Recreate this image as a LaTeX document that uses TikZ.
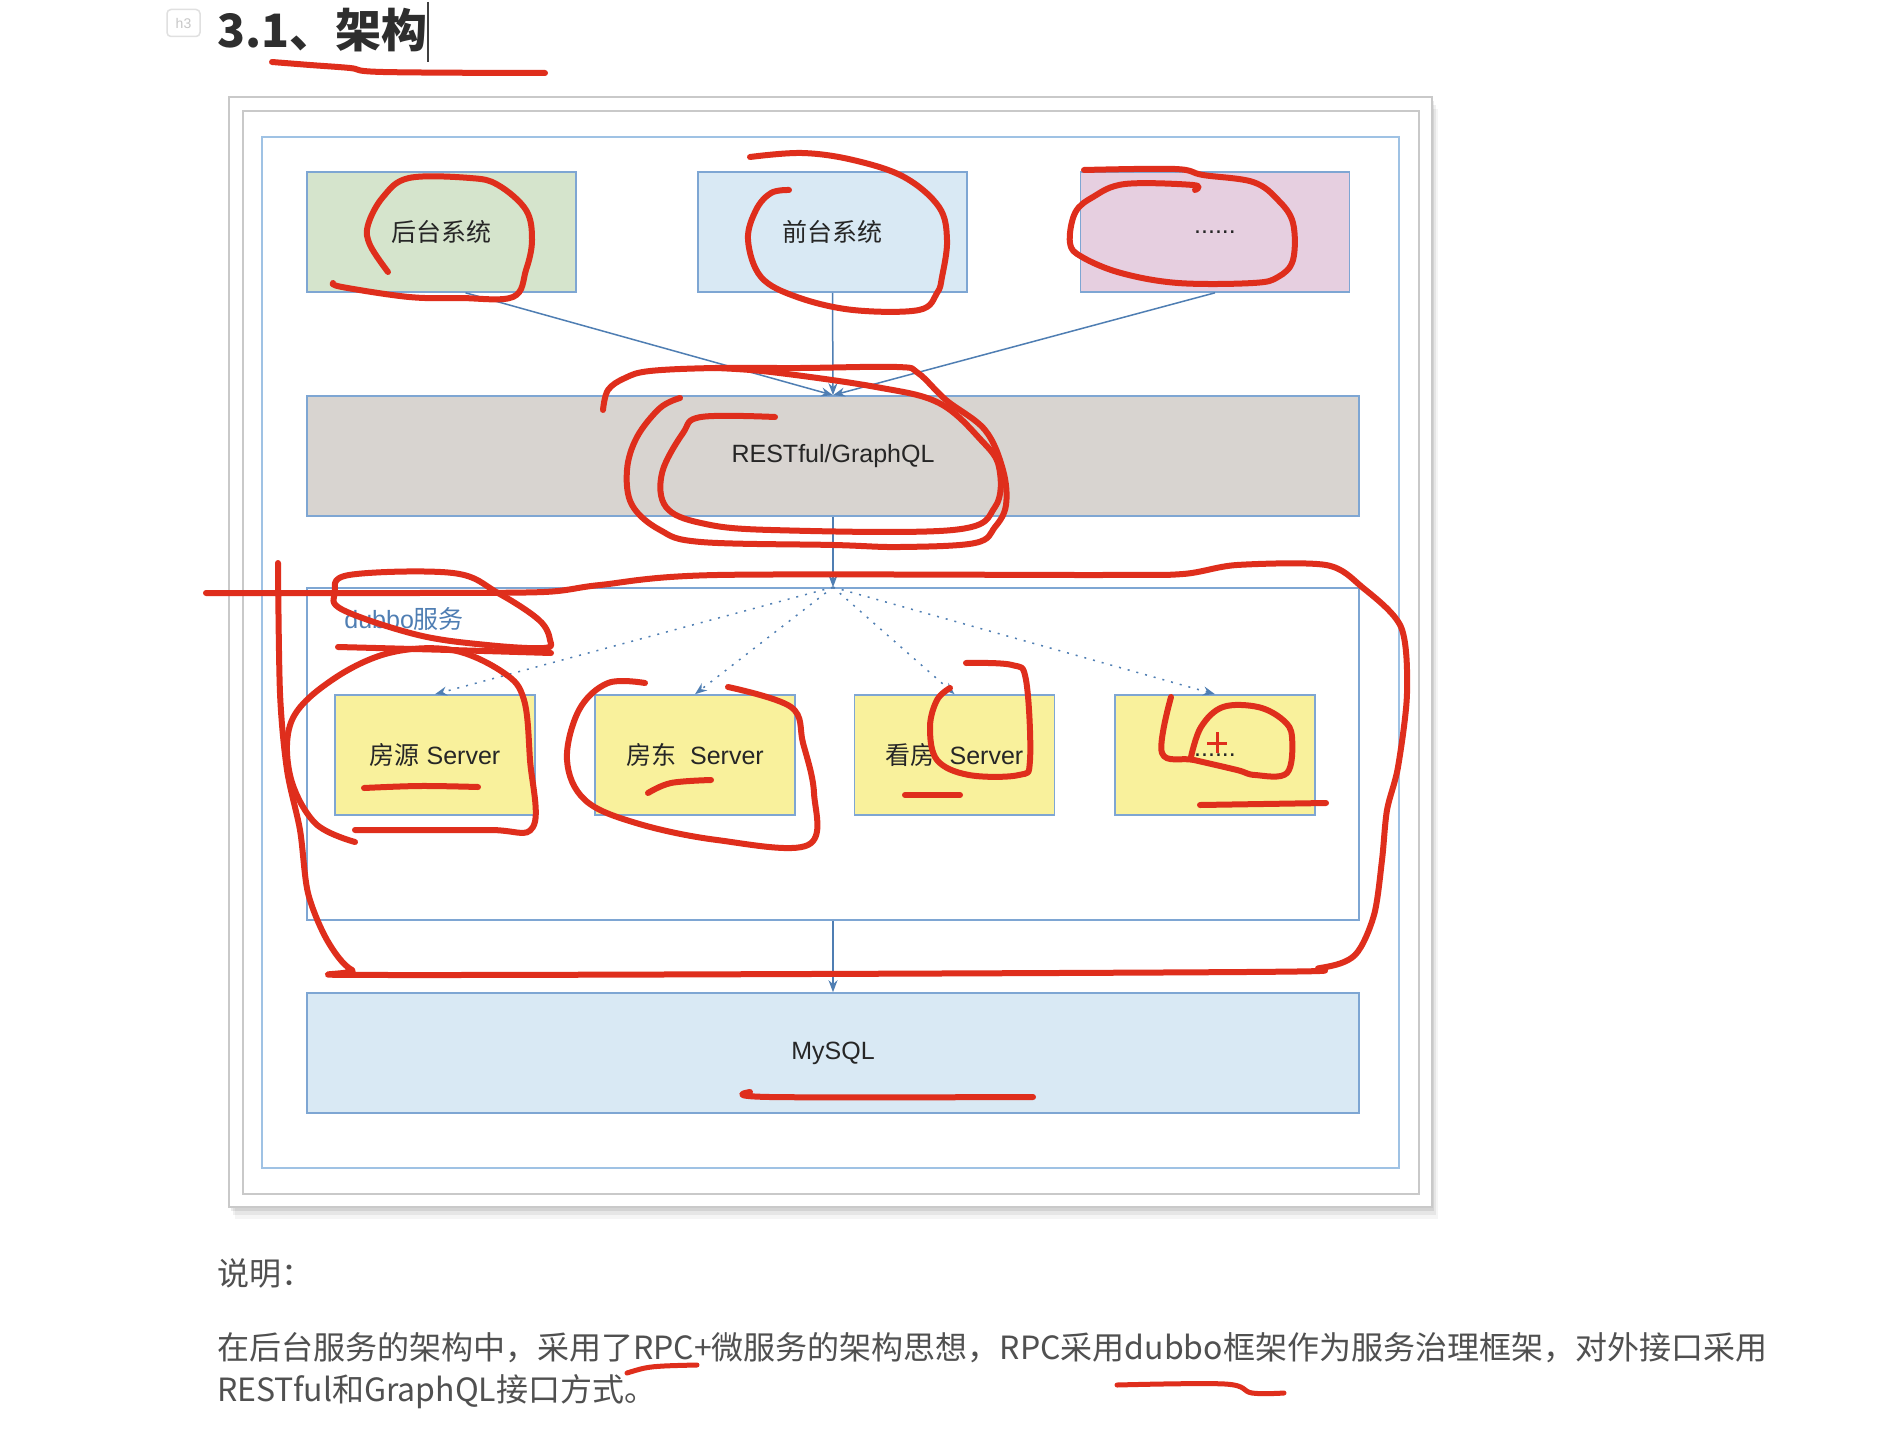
\documentclass[tikz,border=0pt]{standalone}
\usepackage{fontspec}
\setmainfont{Liberation Sans}
\newfontfamily\cjk{Noto Sans CJK SC}
\usetikzlibrary{arrows.meta}

\definecolor{framegray}{HTML}{C9C9C9}
\definecolor{frameblue}{HTML}{9FC2E4}
\definecolor{boxline}{HTML}{7EA6D3}
\definecolor{linkblue}{HTML}{4F7EB3}
\definecolor{greenfill}{HTML}{D5E4CC}
\definecolor{bluefill}{HTML}{D9E9F4}
\definecolor{pinkfill}{HTML}{E6CFE0}
\definecolor{grayfill}{HTML}{D8D4D0}
\definecolor{yellowfill}{HTML}{F9F19C}
\definecolor{penred}{HTML}{DF2E1C}
\definecolor{bodytext}{HTML}{505050}

\begin{document}
\begin{tikzpicture}[x=1pt,y=-1pt,
  box/.style={draw=boxline, line width=1.6pt, inner sep=0pt, minimum height=120pt},
  topbox/.style={box, minimum width=269pt},
  widebox/.style={box, minimum width=1052pt},
  srv/.style={box, fill=yellowfill, minimum width=200pt},
  lbl/.style={font=\fontsize{25}{30}\selectfont, text=black!85},
  para/.style={anchor=west, inner sep=0pt, text=bodytext, font=\cjk\fontsize{32}{38}\selectfont},
  conn/.style={draw=linkblue, line width=1.5pt, -{Stealth[length=12pt,width=9pt]}},
  rpc/.style={conn, dash pattern=on 2pt off 7pt},
  redpen/.style={draw=penred, line width=6pt, line cap=round, line join=round},
]
\useasboundingbox (0,0) rectangle (1878,1434);
\fill[white] (0,0) rectangle (1878,1434);

\foreach \d/\o in {12/0.04, 8/0.06, 4/0.08}
  \fill[black, opacity=\o] (229+\d/2,97+\d) rectangle (1432+\d/2,1207+\d);
\draw[framegray, fill=white, line width=1.5pt] (229,97) rectangle (1432,1207);
\draw[framegray, line width=1.5pt] (243,111) rectangle (1419,1194);
\draw[frameblue, line width=1.5pt] (262,137) rectangle (1399,1168);

\node[topbox, fill=greenfill, lbl] (houtai) at (441.5,232) {\cjk 后台系统};
\node[topbox, fill=bluefill, lbl] (qiantai) at (832.5,232) {\cjk 前台系统};
\node[topbox, fill=pinkfill, lbl] (more) at (1215,232) {......};
\node[widebox, fill=grayfill, lbl] (api) at (833,456) {RESTful/GraphQL};
\node[widebox, fill=white, minimum height=332pt] (dubbo) at (833,754) {};
\node[lbl, text=linkblue, anchor=west, inner sep=0pt] (dubbolbl) at ([xshift=38pt,yshift=-32pt]dubbo.north west) {dubbo{\cjk 服务}};
\node[srv, lbl] (fangyuan) at (435,755) {{\cjk 房源} Server};
\node[srv, lbl] (fangdong) at (695,755) {{\cjk 房东}\ \ Server};
\node[srv, lbl] (kanfang) at (954.5,755) {{\cjk 看房}\ \ Server};
\node[srv, lbl] (etc) at (1215,755) {......};
\node[widebox, fill=bluefill, lbl] (mysql) at (833,1053) {MySQL};

\draw[conn] ([xshift=24pt]houtai.south) -- (api.north);
\draw[conn] (qiantai.south) -- (api.north);
\draw[conn] (more.south) -- (api.north);
\draw[conn] (api.south) -- (dubbo.north);
\foreach \s in {fangyuan,fangdong,kanfang,etc}
  \draw[rpc] (dubbo.north) -- (\s.north);
\draw[conn] (dubbo.south) -- (mysql.north);

\node[draw=black!12, rounded corners=4pt, line width=1.5pt, minimum width=33pt, minimum height=27pt, inner sep=0pt, text=black!22, font=\fontsize{14}{14}\selectfont] (badge) at (183.5,23) {h3};
\node[anchor=base west, inner sep=0pt, text=black!82, font=\cjk\bfseries\fontsize{46}{50}\selectfont] (title) at (217,48) {3.1、架构};
\draw[black!75, line width=1.5pt] (428,2) -- (428,62);

\node[para] (note) at (217,1273) {说明：};
\node[para] (line1) at (217,1348) {在后台服务的架构中，采用了RPC+微服务的架构思想，RPC采用dubbo框架作为服务治理框架，对外接口采用};
\node[para] (line2) at (217,1392) {RESTful和GraphQL接口方式。};

\draw[redpen] plot[smooth, tension=0.6] coordinates {(272,62) (310,65) (350,68) (383,72) (545,73)};
\draw[redpen] plot[smooth, tension=0.6] coordinates {(388,272) (370,245) (368,225) (383,197) (409,178) (470,178) (498,185) (526,210) (532,240) (526,270) (513,297) (460,298) (409,297) (342,287) (333,283)};
\draw[redpen] plot[smooth, tension=0.6] coordinates {(750,157) (802,153) (853,160) (904,177) (939,207) (947,240) (942,277) (937,293) (919,310) (853,310) (797,297) (761,277) (748,240) (756,210) (771,193) (789,190)};
\draw[redpen] plot[smooth, tension=0.6] coordinates {(1084,170) (1175,169) (1203,175) (1253,182) (1278,200) (1293,223) (1293,260) (1278,277) (1253,283) (1178,283) (1121,273) (1082,257) (1070,243) (1075,213) (1093,197) (1125,184) (1193,185) (1195,190)};
\draw[redpen] plot[smooth, tension=0.6] coordinates {(603,410) (608,390) (625,378) (650,371) (715,368) (800,368) (897,367) (918,373) (946,400) (985,430) (1003,470) (1006,505) (995,527) (975,543) (900,547) (834,545) (701,542) (660,530) (632,505) (627,470) (637,437) (660,408) (680,398)};
\draw[redpen] plot[smooth, tension=0.6] coordinates {(775,417) (701,417) (683,433) (662,473) (666,507) (701,523) (771,530) (953,530) (995,507) (999,467) (981,440) (939,403) (876,387) (771,372) (715,368)};
\draw[redpen] plot[smooth, tension=0.5] coordinates {(206,593) (269,593) (418,593) (544,592) (600,585) (717,575) (1100,575) (1183,574) (1237,565) (1326,565) (1362,587) (1401,627) (1407,693) (1398,767) (1387,810) (1382,860) (1374,915) (1355,955) (1320,968) (1245,972) (393,975) (352,970) (327,940) (308,893) (300,830) (287,770) (280,693) (278,563)};
\draw[redpen] plot[smooth cycle, tension=0.6] coordinates {(349,575) (453,573) (498,593) (539,620) (550,640) (544,648) (487,645) (418,635) (343,610) (335,593)};
\draw[redpen] plot[smooth, tension=0.6] coordinates {(338,647) (450,650) (551,653)};
\draw[redpen] plot[smooth, tension=0.6] coordinates {(355,842) (315,823) (290,775) (292,720) (332,680) (389,653) (452,650) (504,673) (524,700) (530,760) (533,827) (487,830) (355,830)};
\draw[redpen] plot[smooth, tension=0.6] coordinates {(364,788) (420,786) (478,787)};
\draw[redpen] plot[smooth, tension=0.6] coordinates {(645,683) (608,683) (579,710) (567,760) (585,800) (636,823) (717,840) (808,845) (814,793) (803,743) (791,707) (728,687)};
\draw[redpen] plot[smooth, tension=0.6] coordinates {(648,793) (671,783) (711,780)};
\draw[redpen] plot[smooth, tension=0.6] coordinates {(966,663) (1012,665) (1026,680) (1030,760) (1019,775) (969,775) (937,760) (930,727) (937,700) (950,688)};
\draw[redpen] (905,795) -- (960,795);
\draw[redpen] plot[smooth, tension=0.6] coordinates {(1171,697) (1162,753) (1194,760) (1237,770) (1255,775) (1287,773) (1292,737) (1283,720) (1258,707) (1223,707) (1201,727) (1191,757)};
\draw[redpen] (1200,805) -- (1326,803);
\draw[penred, line width=3pt] (1207,743) -- (1227,743) (1217,732) -- (1217,753);
\draw[redpen] plot[smooth, tension=0.6] coordinates {(750,1092) (770,1097) (1033,1097)};
\draw[redpen, line width=5pt] plot[smooth, tension=0.6] coordinates {(627,1373) (645,1368) (664,1366) (697,1365)};
\draw[redpen, line width=5pt] plot[smooth, tension=0.6] coordinates {(1117,1385) (1225,1384) (1252,1393) (1284,1393)};
\end{tikzpicture}
\end{document}
